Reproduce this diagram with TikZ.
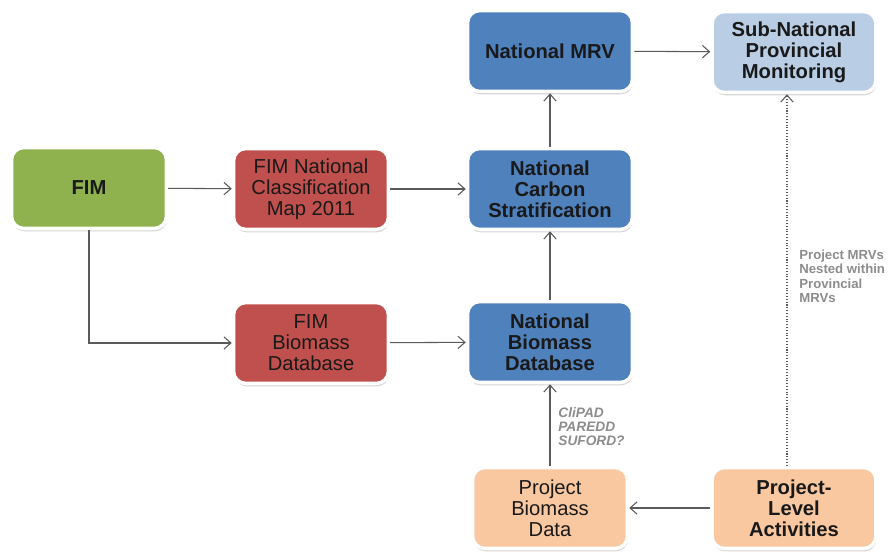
\documentclass[tikz,border=0pt]{standalone}
\usepackage{fontspec}
\setmainfont{Liberation Sans}
\usetikzlibrary{arrows.meta,shadows}
\definecolor{fimgreen}{HTML}{8FB24F}
\definecolor{fimred}{HTML}{C0504D}
\definecolor{natblue}{HTML}{4F81BD}
\definecolor{subblue}{HTML}{B9CDE5}
\definecolor{projpeach}{HTML}{F9C8A0}
\definecolor{linegray}{HTML}{5A5A5A}
\definecolor{notegray}{HTML}{8C8C8C}
\tikzset{
	box/.style={rectangle,rounded corners=7pt,draw=white,line width=2pt,
		minimum width=3.1cm,minimum height=1.62cm,align=center,text=black!90,
		font=\fontsize{11.5}{12}\selectfont,
		drop shadow={opacity=.35,shadow xshift=.4pt,shadow yshift=-1.6pt}},
	bbox/.style={box,font=\fontsize{11.5}{12}\selectfont\bfseries},
	link/.style={draw=linegray,line width=.6pt,-{Straight Barb[length=4pt,width=7pt]}},
	note/.style={text=notegray,font=\fontsize{7.8}{8}\selectfont\bfseries,align=left,anchor=north west,inner sep=0pt}
}
\begin{document}
\begin{tikzpicture}[x=0.02cm,y=-0.02cm]
	\useasboundingbox (0,0) rectangle (888,554);
	% left column
	\node[bbox,fill=fimgreen] (fim) at (89,188) {FIM};
	% middle column
	\node[box,fill=fimred] (classmap) at (311,189) {FIM National\\Classification\\Map 2011};
	\node[box,fill=fimred] (fimbio) at (311,343) {FIM\\Biomass\\Database};
	% national
	\node[bbox,fill=natblue,minimum width=3.3cm] (mrv) at (550,51) {National MRV};
	\node[bbox,fill=natblue,minimum width=3.3cm] (carbon) at (550,189) {National\\Carbon\\Stratification};
	\node[bbox,fill=natblue,minimum width=3.3cm] (natbio) at (550,342) {National\\Biomass\\Database};
	\node[box,fill=projpeach] (projbio) at (550,508) {Project\\Biomass\\Data};
	% right column
	\node[bbox,fill=subblue,minimum width=3.28cm] (subnat) at (794,52) {Sub-National\\Provincial\\Monitoring};
	\node[bbox,fill=projpeach,minimum width=3.28cm] (projlvl) at (794,508) {Project-\\Level\\Activities};

	\draw[link] (fim) -- (classmap);
	\draw[link] (fim.south) |- (fimbio);
	\draw[link] (classmap) -- (carbon);
	\draw[link] (fimbio) -- (natbio);
	\draw[link] (natbio) -- (carbon);
	\draw[link] (carbon) -- (mrv);
	\draw[link] (mrv) -- (subnat);
	\draw[link] (projbio) -- (natbio);
	\draw[link] (projlvl) -- (projbio);
	\draw[link,densely dotted] ([xshift=-4]projlvl.north) -- ([xshift=-4]subnat.south);

	\node[note,font=\fontsize{7.8}{8}\selectfont\bfseries\itshape] (partners) at (558,407) {CliPAD\\PAREDD\\SUFORD?};
	\node[note,font=\fontsize{7.5}{8}\selectfont\bfseries] (nested) at (799,250) {Project MRVs\\Nested within\\Provincial\\MRVs};
\end{tikzpicture}
\end{document}
